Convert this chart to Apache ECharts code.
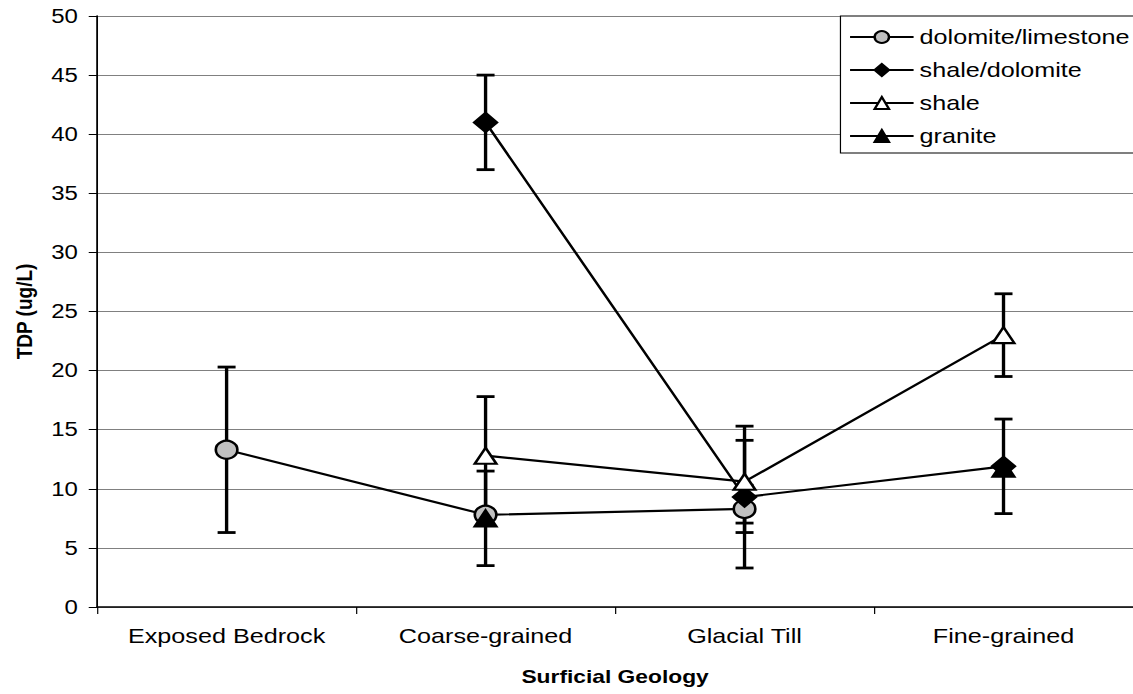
<!DOCTYPE html>
<html>
<head>
<meta charset="utf-8">
<title>TDP by Surficial Geology</title>
<script src="https://cdn.jsdelivr.net/npm/echarts@6/dist/echarts.min.js"></script>
<style>
  html, body { margin: 0; padding: 0; background: #ffffff; overflow: hidden; }
  /* the chart is laid out on a narrower canvas and widened horizontally */
  #chart { width: 945px; height: 694px; transform: scaleX(1.19894); transform-origin: 0 0; }
</style>
</head>
<body>
<div id="chart"></div>
<script>
// Surficial geology classes on the x axis
const categories = ['Exposed Bedrock', 'Coarse-grained', 'Glacial Till', 'Fine-grained'];

// Mean TDP (ug/L) per bedrock type; null = no samples
const dolomiteLimestone = [13.3, 7.8, 8.3, null];
const shaleDolomite     = [null, 41.0, 9.3, 11.9];
const shale             = [null, 12.8, 10.6, 23.0];
const granite           = [null, 7.5, null, 11.7];

// Error-bar half widths (ug/L)
const dolomiteLimestoneErr = [7.0, null, 2.0, null];
const shaleDolomiteErr     = [null, 4.0, 6.0, 4.0];
const shaleErr             = [null, 5.0, 3.5, 3.5];
const graniteErr           = [null, 4.0, null, null];

// y-axis range and step
const yMin = 0, yMax = 50, yStep = 5;

const FONT = '"Liberation Sans", Arial, sans-serif';

function errorRows(values, errs) {
  const rows = [];
  values.forEach((v, i) => {
    if (v != null && errs[i] != null) rows.push([i, v - errs[i], v + errs[i]]);
  });
  return rows;
}

const errorData = [].concat(
  errorRows(dolomiteLimestone, dolomiteLimestoneErr),
  errorRows(shaleDolomite, shaleDolomiteErr),
  errorRows(shale, shaleErr),
  errorRows(granite, graniteErr)
);

function renderErrorBar(params, api) {
  const x = api.value(0);
  const top = api.coord([x, api.value(2)]);
  const bot = api.coord([x, api.value(1)]);
  const hw = 7.5;
  const style = { stroke: '#000', lineWidth: 2.8, fill: null };
  return {
    type: 'group',
    children: [
      { type: 'line', shape: { x1: top[0], y1: top[1], x2: bot[0], y2: bot[1] }, style: style },
      { type: 'line', shape: { x1: top[0] - hw, y1: top[1], x2: top[0] + hw, y2: top[1] }, style: style },
      { type: 'line', shape: { x1: bot[0] - hw, y1: bot[1], x2: bot[0] + hw, y2: bot[1] }, style: style }
    ]
  };
}

function lineSeries(name, data, symbol, size, fill) {
  return {
    name: name,
    type: 'line',
    data: data,
    z: 3,
    symbol: symbol,
    symbolSize: size,
    showAllSymbol: true,
    connectNulls: false,
    lineStyle: { color: '#000', width: 2.2 },
    itemStyle: { color: fill, borderColor: '#000', borderWidth: 2.2, opacity: 1 },
    emphasis: { disabled: true },
    animation: false
  };
}

const chart = echarts.init(document.getElementById('chart'), null, { renderer: 'svg' });

chart.setOption({
  backgroundColor: '#ffffff',
  animation: false,
  textStyle: { fontFamily: FONT, color: '#000' },
  grid: { left: 81, right: 0, top: 16, bottom: 87, containLabel: false, outerBoundsMode: 'none' },
  legend: {
    left: 701,
    top: 16,
    orient: 'vertical',
    data: ['dolomite/limestone', 'shale/dolomite', 'shale', 'granite'],
    backgroundColor: '#ffffff',
    borderColor: '#000',
    borderWidth: 1,
    padding: [10, 40, 6, 7],
    itemWidth: 53,
    itemHeight: 15,
    itemGap: 11,
    selectedMode: false,
    textStyle: { fontFamily: FONT, fontSize: 21, color: '#000', lineHeight: 22 }
  },
  xAxis: {
    type: 'category',
    data: categories,
    boundaryGap: true,
    name: 'Surficial Geology',
    nameLocation: 'middle',
    nameGap: 60,
    nameTextStyle: { fontFamily: FONT, fontSize: 19, fontWeight: 'bold', color: '#000' },
    axisLine: { show: true, lineStyle: { color: '#000', width: 1.5 } },
    axisTick: { show: true, inside: false, length: 7, interval: 0, alignWithLabel: false, lineStyle: { color: '#000', width: 1 } },
    axisLabel: { fontFamily: FONT, fontSize: 21, color: '#000', margin: 18, interval: 0 },
    splitLine: { show: false }
  },
  yAxis: {
    type: 'value',
    min: yMin,
    max: yMax,
    interval: yStep,
    name: 'TDP (ug/L)',
    nameLocation: 'middle',
    nameRotate: 90,
    nameGap: 52,
    nameTextStyle: { fontFamily: FONT, fontSize: 19, fontWeight: 'bold', color: '#000' },
    axisLine: { show: true, lineStyle: { color: '#000', width: 1.5 } },
    axisTick: { show: true, inside: false, length: 7, lineStyle: { color: '#000', width: 1 } },
    axisLabel: { fontFamily: FONT, fontSize: 20, color: '#000', margin: 16 },
    splitLine: { show: true, lineStyle: { color: '#808080', width: 1 } }
  },
  series: [
    {
      name: 'error',
      type: 'custom',
      z: 2,
      data: errorData,
      encode: { x: 0, y: [1, 2] },
      renderItem: renderErrorBar,
      silent: true,
      animation: false
    },
    lineSeries('dolomite/limestone', dolomiteLimestone, 'circle', 18, '#c0c0c0'),
    lineSeries('shale/dolomite', shaleDolomite, 'diamond', [19, 19], '#000'),
    lineSeries('shale', shale, 'triangle', [18, 16], '#ffffff'),
    lineSeries('granite', granite, 'triangle', [18, 16], '#000')
  ]
});
</script>
</body>
</html>
